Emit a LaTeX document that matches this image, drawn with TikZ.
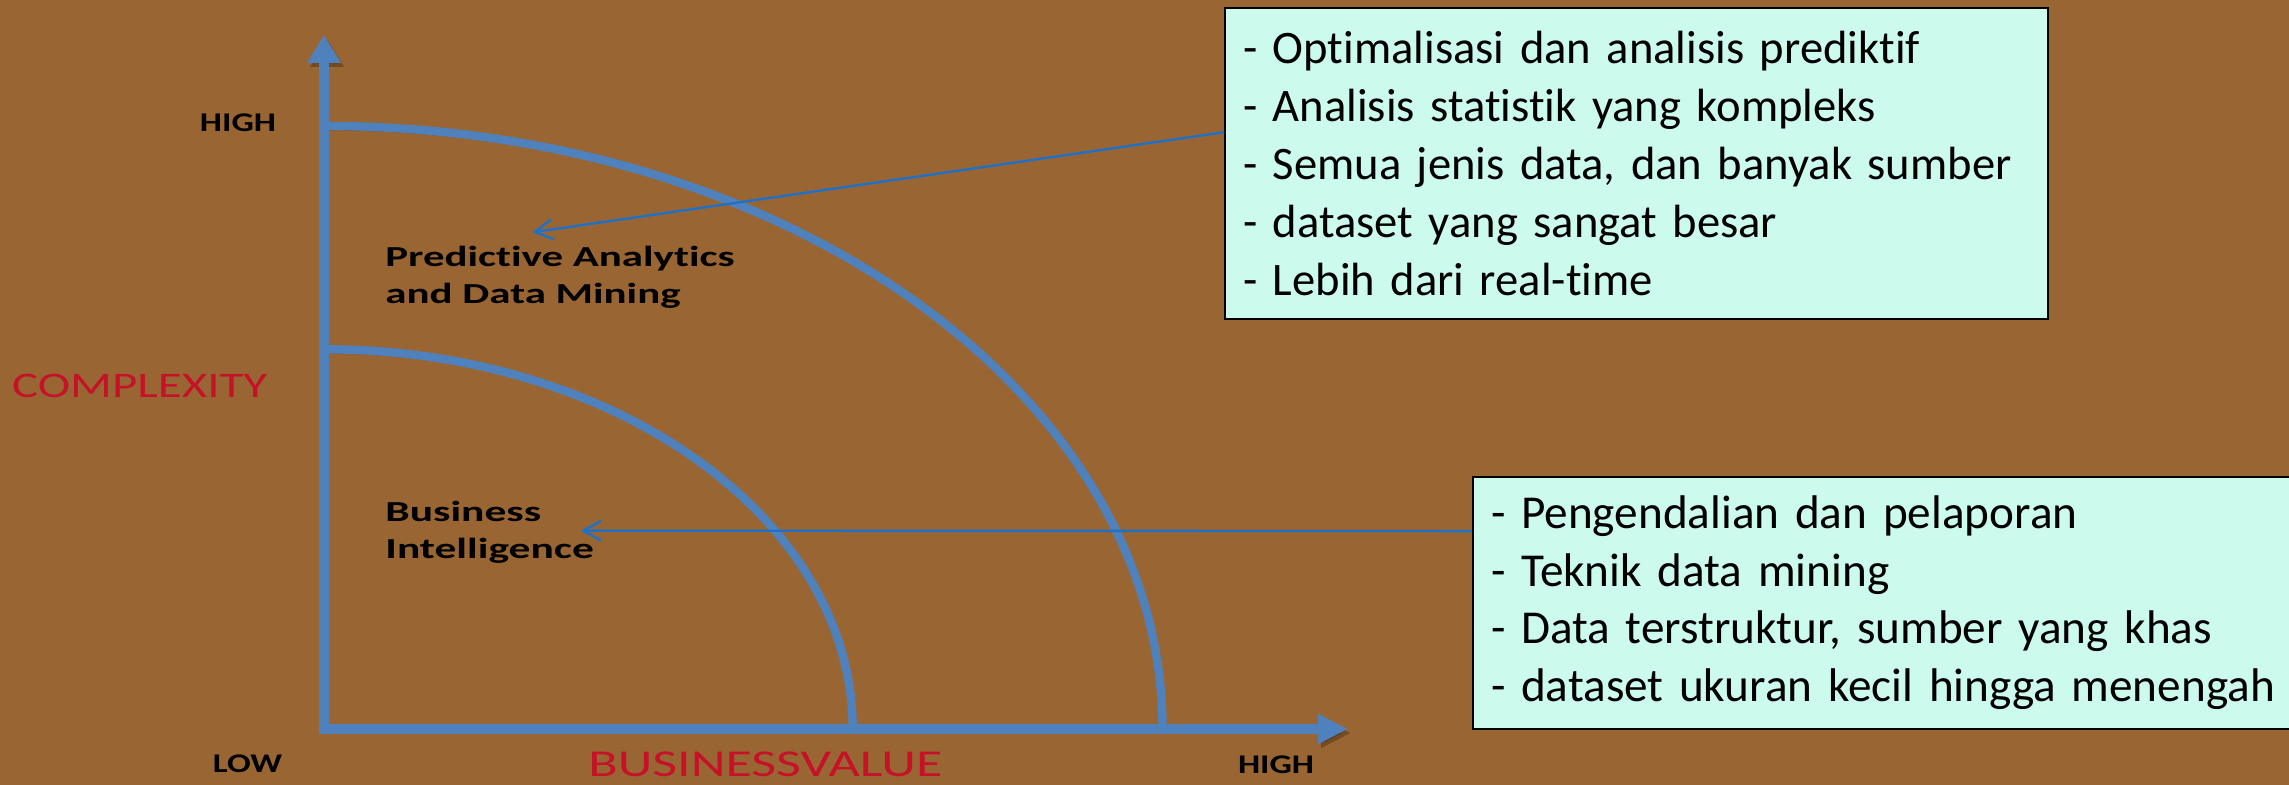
\documentclass[tikz,border=0pt]{standalone}
\usepackage{fontspec}
\usepackage{graphicx}
\setmainfont{Carlito}[Ligatures={NoCommon}]
\usetikzlibrary{arrows.meta,calc}
\definecolor{bgbrown}{RGB}{153,102,51}
\definecolor{axisblue}{RGB}{79,129,189}
\definecolor{connblue}{RGB}{31,113,200}
\definecolor{boxfill}{RGB}{204,250,236}
\definecolor{lblred}{RGB}{198,18,40}
\definecolor{shadowc}{RGB}{70,45,20}
\begin{document}
\begin{tikzpicture}[x=0.5pt,y=0.5pt,
  shadowed/.style={preaction={draw=shadowc, draw opacity=0.45, fill opacity=0.45, transform canvas={shift={(1.5pt,-2pt)}}}},
  axisline/.style={draw=axisblue, line width=5pt, line join=miter, shadowed},
  arcline/.style={draw=axisblue, line width=4.2pt, shadowed},
  conn/.style={draw=connblue, line width=1.2pt, -{Straight Barb[length=9pt,width=10pt,line width=1.2pt]}},
  infobox/.style={draw=black, line width=1pt, fill=boxfill, align=left, inner xsep=9pt, inner ysep=0pt},
  axlbl/.style={inner sep=0pt, font=\fontsize{13.5}{16}\selectfont\bfseries},
  reglbl/.style={inner sep=0pt, anchor=west, font=\fontsize{14.5}{18.5}\selectfont\bfseries},
  redlbl/.style={inner sep=0pt, text=lblred}
]
\fill[bgbrown] (0,0) rectangle (2289,785);
\useasboundingbox (0,0) rectangle (2289,785);

% arcs
\draw[arcline] (324,659) arc[start angle=90,end angle=0,x radius=419.25pt,y radius=301.5pt];
\draw[arcline] (324,435.7) arc[start angle=90,end angle=0,x radius=264.35pt,y radius=189.85pt];

% axes
\coordinate (O) at (324,56);
\coordinate (ytip) at (324,750);
\coordinate (xtip) at (1348,56);
\draw[axisline, {Triangle[length=14pt,width=16pt]}-{Triangle[length=15pt,width=14pt]}] (ytip) -- (O) -- (xtip);

% axis labels
\node[axlbl] (highy) at (238,662.5) {\scalebox{1.3}[1]{HIGH}};
\node[axlbl] (lowx) at (247.5,21) {\scalebox{1.3}[1]{LOW}};
\node[axlbl] (highx) at (1276,20.5) {\scalebox{1.3}[1]{HIGH}};
\node[redlbl, anchor=west, font=\fontsize{18}{20}\selectfont] (cplx) at (11.7,399.3) {\scalebox{1.36}[1]{COMPLEXITY}};
\node[redlbl, anchor=base west, font=\fontsize{19}{21}\selectfont] (bv) at (588,8) {\scalebox{1.42}[1]{BUSINESSVALUE}};

% region labels
\node[reglbl] (pa) at (385,507) {\scalebox{1.48}[1]{\begin{tabular}{@{}l@{}}Predictive Analytics\\and Data Mining\end{tabular}}};
\node[reglbl] (bi) at (385,252) {\scalebox{1.5}[1]{\begin{tabular}{@{}l@{}}Business\\Intelligence\end{tabular}}};

% info boxes
\node[infobox, font=\fontsize{23.3}{28.9}\selectfont, anchor=north west, minimum width=411.5pt, minimum height=155.2pt, text width=393.5pt] (topbox) at (1224,777.7)
  {\mbox{- Optimalisasi dan analisis prediktif}\\
   \mbox{- Analisis statistik yang kompleks}\\
   \mbox{- Semua jenis data, dan banyak sumber}\\
   \mbox{- dataset yang sangat besar}\\
   \mbox{- Lebih dari real-time}};
\node[infobox, font=\fontsize{23.6}{28.7}\selectfont, anchor=north west, minimum width=460pt, minimum height=126pt, text width=442pt] (botbox) at (1472,309.3)
  {\mbox{- Pengendalian dan pelaporan}\\
   \mbox{- Teknik data mining}\\
   \mbox{- Data terstruktur, sumber yang khas}\\
   \mbox{- dataset ukuran kecil hingga menengah}};

% connectors
\coordinate (patip) at (532.3,552.7);
\coordinate (bitip) at (580.7,254.3);
\draw[conn] ($(topbox.north west)!0.4!(topbox.south west)$) -- (patip);
\draw[conn] ($(botbox.north west)!0.218!(botbox.south west)$) -- (bitip);
\end{tikzpicture}
\end{document}
